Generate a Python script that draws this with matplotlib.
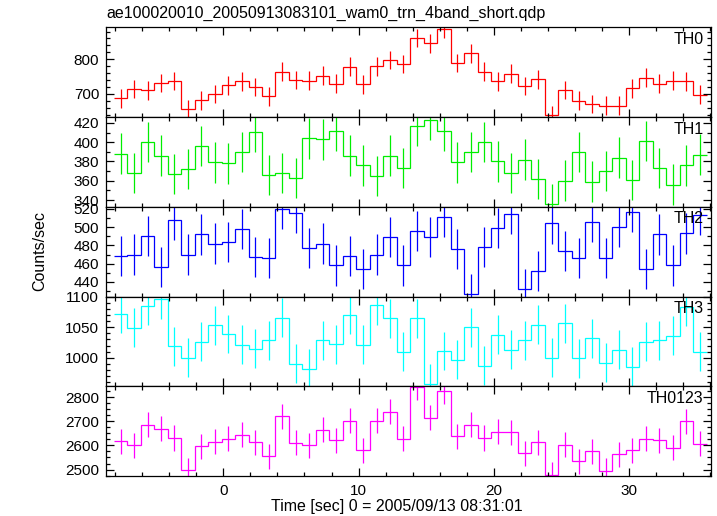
import numpy as np
import matplotlib
matplotlib.use("Agg")
import matplotlib.pyplot as plt
from matplotlib.ticker import MultipleLocator

plt.rcParams['font.family'] = ['Liberation Sans', 'DejaVu Sans']

# time bins (sec), first bin centre and bin width
t_start = -7.62
t_bin = 0.9975

th0 = [687, 714, 710, 731, 737, 656, 681, 700, 725, 736, 720, 693, 764, 740, 738,
       753, 729, 778, 728, 779, 798, 786, 861, 846, 887, 789, 817, 764, 736, 758,
       723, 742, 639, 711, 680, 671, 666, 666, 716, 747, 729, 738, 736, 698]
th1 = [388, 368, 400, 386, 367, 372, 396, 379, 378, 390, 411, 366, 368, 363, 404,
       403, 412, 386, 376, 365, 386, 373, 417, 423, 412, 379, 390, 400, 380, 368,
       382, 362, 336, 360, 390, 359, 370, 384, 361, 401, 373, 356, 376, 387]
th2 = [468, 470, 490, 456, 508, 470, 492, 482, 484, 498, 467, 466, 520, 515, 477,
       482, 458, 468, 454, 470, 489, 458, 496, 489, 511, 476, 427, 478, 499, 514,
       432, 452, 504, 474, 466, 506, 466, 500, 517, 454, 492, 458, 493, 513]
th3 = [1072, 1049, 1085, 1096, 1019, 1000, 1026, 1053, 1039, 1021, 1015, 1029, 1066,
       990, 982, 1029, 1022, 1071, 1021, 1086, 1065, 1010, 1065, 957, 1011, 997,
       1050, 987, 1038, 1013, 1029, 1054, 1000, 1057, 999, 1032, 992, 1013, 985,
       1026, 1029, 1036, 1084, 1010]
th0123 = [2617, 2601, 2686, 2670, 2631, 2497, 2596, 2615, 2627, 2644, 2614, 2555,
          2721, 2611, 2600, 2666, 2621, 2703, 2580, 2703, 2741, 2627, 2842, 2715,
          2825, 2639, 2686, 2631, 2656, 2655, 2568, 2613, 2478, 2603, 2534, 2576,
          2494, 2563, 2580, 2627, 2622, 2590, 2701, 2607]

names = ['TH0', 'TH1', 'TH2', 'TH3', 'TH0123']
errors = [27, 21, 22, 32, 52]
colors = ['#ff0000', '#00ee00', '#0000ff', '#00ffff', '#ff00ff']
ylims = [(633, 892), (333, 426), (424, 522.2), (953, 1100.6), (2473, 2846)]
major = [100, 20, 20, 50, 100]
minor = [20, 10, 10, 10, 25]
series = [th0, th1, th2, th3, th0123]

n = len(th0)
t = t_start + t_bin * np.arange(n)
edges = t_start - t_bin / 2 + t_bin * np.arange(n + 1)

fig, axes = plt.subplots(5, 1, figsize=(7.17, 5.16), dpi=100, sharex=True)
fig.subplots_adjust(left=0.148, right=0.9916, top=0.947, bottom=0.0775, hspace=0)

for ax, vals, name, err, col, yl, mj, mn in zip(axes, series, names, errors,
                                                 colors, ylims, major, minor):
    vals = np.array(vals, dtype=float)
    ax.stairs(vals, edges, color=col, lw=0.9, baseline=None)
    ax.errorbar(t, vals, yerr=err, fmt='none', ecolor=col, elinewidth=0.9,
                capsize=0)
    ax.set_ylim(*yl)
    ax.set_xlim(-8.69, 36.1)
    ax.yaxis.set_major_locator(MultipleLocator(mj))
    ax.yaxis.set_minor_locator(MultipleLocator(mn))
    ax.xaxis.set_major_locator(MultipleLocator(10))
    ax.xaxis.set_minor_locator(MultipleLocator(2))
    ax.tick_params(which='both', direction='in', top=True, right=True,
                   labelsize=11, width=0.9)
    ax.tick_params(which='major', length=6, pad=5)
    ax.tick_params(which='minor', length=3)
    for s in ax.spines.values():
        s.set_linewidth(0.9)
    ax.text(0.988, 0.95, name, transform=ax.transAxes, ha='right', va='top',
            fontsize=11.5)

axes[-1].tick_params(axis='x', pad=6)

fig.text(0.149, 0.974, 'ae100020010_20050913083101_wam0_trn_4band_short.qdp',
         ha='left', va='center', fontsize=11.5)
fig.text(0.056, 0.513, 'Counts/sec', rotation=90, ha='center', va='center',
         fontsize=11.5)
fig.text(0.554, 0.018, 'Time [sec] 0 = 2005/09/13 08:31:01', ha='center',
         va='center', fontsize=11.5)

fig.savefig('out.png', dpi=100)
